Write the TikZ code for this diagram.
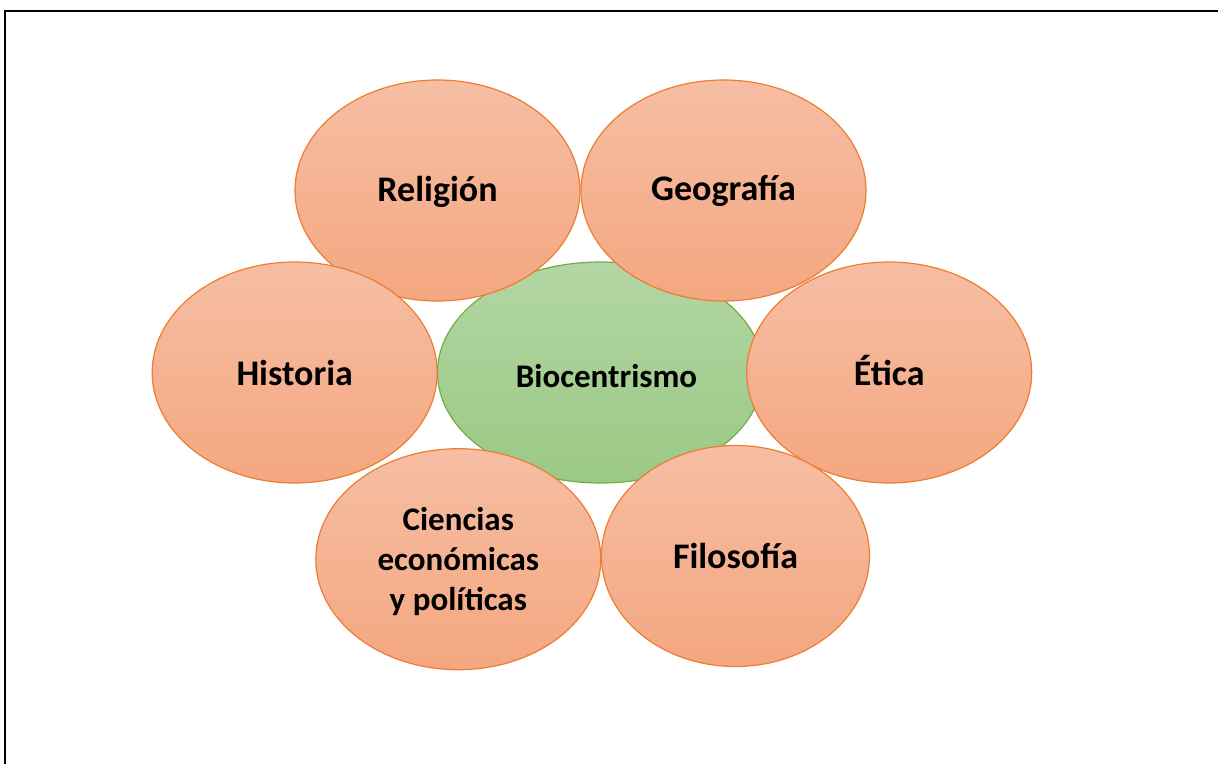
\documentclass[tikz,border=0pt]{standalone}
\usepackage{fontspec}
\setmainfont{Carlito}
\usetikzlibrary{shapes.geometric}
\definecolor{orTop}{HTML}{F6BEA4}
\definecolor{orBot}{HTML}{F4A780}
\definecolor{orLine}{HTML}{ED7D31}
\definecolor{grTop}{HTML}{B3D6A4}
\definecolor{grBot}{HTML}{9BC985}
\definecolor{grLine}{HTML}{70AD47}
\newcommand{\shiftdown}[2]{\raisebox{-#1}[\height][\depth]{#2}}
\tikzset{
  petal/.style={ellipse, inner sep=0pt, minimum width=285pt, minimum height=221pt,
    top color=orTop, bottom color=orBot, draw=orLine, line width=1.2pt,
    align=center, font=\fontsize{36}{44}\selectfont\bfseries},
  core/.style={ellipse, inner sep=0pt, minimum width=326pt, minimum height=221pt,
    top color=grTop, bottom color=grBot, draw=grLine, line width=1.2pt,
    font=\fontsize{33}{40}\selectfont\bfseries},
  frameline/.style={line width=2pt, black}
}
\begin{document}
\begin{tikzpicture}[x=1pt,y=-1pt]
\useasboundingbox (0,0) rectangle (1218,763);
\coordinate (fb) at (5,770);
\coordinate (fc) at (5,11);
\coordinate (fr) at (1225,11);
\draw[frameline] (fb) -- (fc) -- (fr);
\node[core] (bio) at (600.5,372.5) {\hspace*{12pt}\shiftdown{4pt}{Biocentrismo}};
\node[petal] (rel) at (437.5,190.5) {\shiftdown{1pt}{Religión}};
\node[petal] (geo) at (723.5,190.5) {Geografía};
\node[petal] (his) at (294.7,372.5) {Historia};
\node[petal] (eti) at (889.2,372.5) {\shiftdown{-2pt}{Ética}};
\node[petal] (cie) at (458.3,559.2) {\shiftdown{3pt}{\fontsize{33}{40}\selectfont\bfseries\begin{tabular}{@{}c@{}}Ciencias\\económicas\\y políticas\end{tabular}}};
\node[petal, minimum width=268pt] (fil) at (735.5,556) {Filosofía};
\end{tikzpicture}
\end{document}
